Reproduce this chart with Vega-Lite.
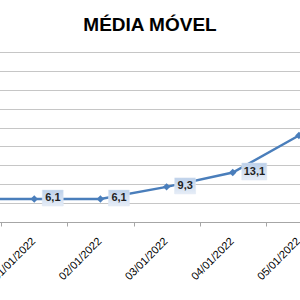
{
  "$schema": "https://vega.github.io/schema/vega-lite/v6.json",
  "width": 300,
  "height": 170,
  "autosize": {"type": "none"},
  "padding": {"top": 52, "left": 0, "right": 0, "bottom": 78},
  "background": "white",
  "title": {
    "text": "MÉDIA MÓVEL",
    "font": "Liberation Sans",
    "fontSize": 19,
    "fontWeight": "bold",
    "color": "#000000",
    "anchor": "middle",
    "frame": "group",
    "offset": 2,
    "baseline": "alphabetic"
  },
  "data": {
    "values": [
      {"data": "31/12/2021", "v": 6.1},
      {"data": "01/01/2022", "v": 6.1},
      {"data": "02/01/2022", "v": 6.1},
      {"data": "03/01/2022", "v": 9.3},
      {"data": "04/01/2022", "v": 13.1},
      {"data": "05/01/2022", "v": 22.9}
    ]
  },
  "encoding": {
    "x": {
      "field": "data",
      "type": "nominal",
      "sort": null,
      "bandPosition": 0.5,
      "scale": {"type": "band", "range": [-65, 332], "paddingInner": 0, "paddingOuter": 0},
      "axis": {
        "title": null,
        "labelAngle": -45,
        "labelFont": "Liberation Sans",
        "labelFontSize": 11,
        "labelColor": "#000000",
        "domainColor": "#a6a6a6",
        "tickColor": "#a6a6a6",
        "tickBand": "extent",
        "tickSize": 4,
        "labelPadding": 9,
        "labelOffset": -5,
        "grid": false,
        "labelOverlap": false,
        "labelBound": false
      }
    },
    "y": {
      "field": "v",
      "type": "quantitative",
      "scale": {"domain": [0, 45]},
      "axis": {
        "values": [0, 5, 10, 15, 20, 25, 30, 35, 40, 45],
        "grid": true,
        "gridColor": "#c6c6c6",
        "domain": false,
        "ticks": false,
        "labels": false,
        "title": null
      }
    }
  },
  "layer": [
    {"mark": {"type": "line", "color": "#4a7ebb", "strokeWidth": 2.5}},
    {"mark": {"type": "point", "shape": "diamond", "filled": true, "color": "#4a7ebb", "size": 55, "opacity": 1}},
    {
      "transform": [{"filter": "datum.v < 10"}],
      "mark": {
        "type": "point",
        "shape": "M-1,-0.76H1V0.76H-1Z",
        "filled": true,
        "size": 441,
        "xOffset": 18.5,
        "yOffset": -1,
        "opacity": 1,
        "fill": {"gradient": "linear", "x1": 0, "y1": 0, "x2": 0, "y2": 1, "stops": [{"offset": 0, "color": "#bcd0ea"}, {"offset": 1, "color": "#e6edf7"}]},
        "stroke": "#dde6f2",
        "strokeWidth": 0.5
      }
    },
    {
      "transform": [{"filter": "datum.v >= 10"}],
      "mark": {
        "type": "point",
        "shape": "M-1,-0.68H1V0.68H-1Z",
        "filled": true,
        "size": 625,
        "xOffset": 21.5,
        "yOffset": -1,
        "opacity": 1,
        "fill": {"gradient": "linear", "x1": 0, "y1": 0, "x2": 0, "y2": 1, "stops": [{"offset": 0, "color": "#bcd0ea"}, {"offset": 1, "color": "#e6edf7"}]},
        "stroke": "#dde6f2",
        "strokeWidth": 0.5
      }
    },
    {
      "mark": {
        "type": "text",
        "align": "left",
        "baseline": "middle",
        "dx": 11,
        "dy": -1,
        "font": "Liberation Sans",
        "fontSize": 11,
        "fontWeight": "bold",
        "color": "#1f1f1f"
      },
      "encoding": {"text": {"field": "v", "type": "quantitative", "format": ".1f"}}
    }
  ],
  "config": {
    "view": {"stroke": null},
    "locale": {"number": {"decimal": ",", "thousands": ".", "grouping": [3], "currency": ["R$", ""]}}
  }
}
